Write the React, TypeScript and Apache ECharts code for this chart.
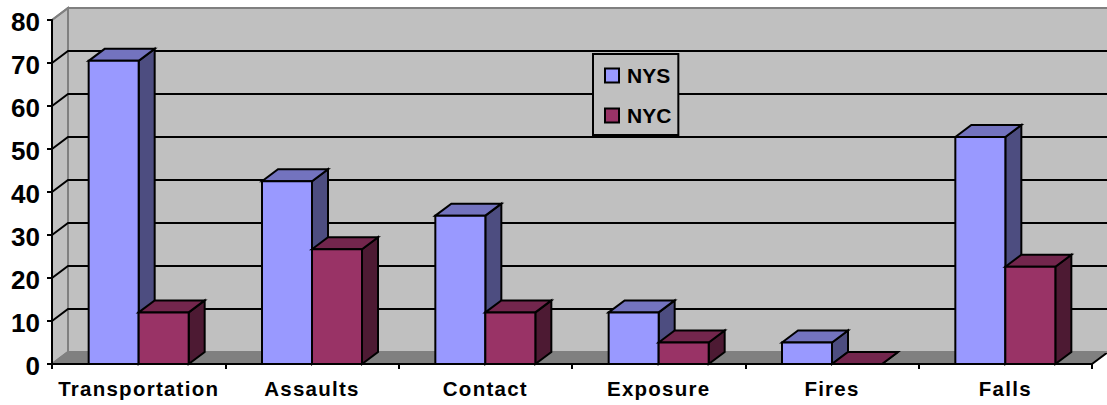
import React, { useEffect, useRef } from "react";
import * as echarts from "echarts";

const categories = ["Transportation", "Assaults", "Contact", "Exposure", "Fires", "Falls"];
const nys = [70.5, 42.5, 34.5, 12, 5, 52.8];
const nyc = [12, 26.7, 12, 5, 0, 22.6];
const yTicks = [0, 10, 20, 30, 40, 50, 60, 70, 80];

const DX = 16;
const DY = -12;
const BAR_W = 50;
const FONT = '"Liberation Sans", Arial, sans-serif';

function poly(points: number[][], fill: string, stroke: string, lineWidth = 2) {
  return {
    type: "polygon",
    shape: { points },
    style: { fill, stroke, lineWidth, lineJoin: "miter" },
  };
}

function barRenderer(offset: number, front: string, top: string, side: string) {
  return (_p: any, api: any) => {
    const [cx, y1] = api.coord([api.value(0), api.value(1)]);
    const [, y0] = api.coord([api.value(0), 0]);
    const x0 = cx + offset * BAR_W;
    const x1 = x0 + BAR_W;
    return {
      type: "group",
      children: [
        poly([[x1, y1], [x1 + DX, y1 + DY], [x1 + DX, y0 + DY], [x1, y0]], side, "#000"),
        poly([[x0, y1], [x0 + DX, y1 + DY], [x1 + DX, y1 + DY], [x1, y1]], top, "#000"),
        poly([[x0, y1], [x1, y1], [x1, y0], [x0, y0]], front, "#000"),
      ],
    };
  };
}

function plotEnds(api: any) {
  const band = api.size([1, 0])[0];
  const first = api.coord([0, 0])[0];
  const last = api.coord([categories.length - 1, 0])[0];
  return { xl: first - band / 2, xr: last + band / 2 };
}

export default function App() {
  const ref = useRef<HTMLDivElement>(null);
  useEffect(() => {
    const chart = echarts.init(ref.current!, undefined, { renderer: "svg" });
    const wall = (_p: any, api: any) => {
      const { xl, xr } = plotEnds(api);
      const yBottom = api.coord([0, 0])[1];
      const yTop = api.coord([0, 80])[1];
      return {
        type: "group",
        children: [
          poly([[xl, yTop], [xl + DX, yTop + DY], [xl + DX, yBottom + DY], [xl, yBottom]], "#c0c0c0", "#808080"),
          poly([[xl + DX, yTop + DY], [xr + DX + 4, yTop + DY], [xr + DX + 4, yBottom + DY], [xl + DX, yBottom + DY]], "#c0c0c0", "#808080"),
          poly([[xl, yBottom], [xl + DX, yBottom + DY], [xr + DX, yBottom + DY], [xr, yBottom]], "#808080", "#808080", 1),
          {
            type: "line",
            shape: { x1: xr, y1: yBottom, x2: xr + DX, y2: yBottom + DY },
            style: { stroke: "#000", lineWidth: 2 },
          },
        ],
      };
    };
    const gridLine = (_p: any, api: any) => {
      const v = api.value(0);
      const { xl, xr } = plotEnds(api);
      const y = api.coord([0, v])[1];
      const c = v === 0 || v === 80 ? "#808080" : "#000";
      return {
        type: "polyline",
        shape: { points: [[xl, y], [xl + DX, y + DY], [xr + DX + 4, y + DY]] },
        style: { fill: "none", stroke: c, lineWidth: 2 },
      };
    };
    chart.setOption({
      animation: false,
      backgroundColor: "#fff",
      grid: { left: 52, right: 15, top: 20, bottom: 41, containLabel: false },
      xAxis: {
        type: "category",
        data: categories,
        z: 5,
        axisLine: { lineStyle: { color: "#000", width: 2 } },
        axisTick: { show: true, length: 5, lineStyle: { color: "#000", width: 2 } },
        axisLabel: { interval: 0, color: "#000", fontFamily: FONT, fontWeight: "bold", fontSize: 20.5, margin: 14 },
      },
      yAxis: {
        type: "value",
        min: 0,
        max: 80,
        interval: 10,
        z: 5,
        splitLine: { show: false },
        axisLine: { show: true, lineStyle: { color: "#000", width: 2 } },
        axisTick: { show: true, length: 5, lineStyle: { color: "#000", width: 2 } },
        axisLabel: { color: "#000", fontFamily: FONT, fontWeight: "bold", fontSize: 26, margin: 12 },
      },
      legend: {
        orient: "vertical",
        left: 593,
        top: 54,
        data: ["NYS", "NYC"],
        backgroundColor: "#c0c0c0",
        borderColor: "#000",
        borderWidth: 2,
        padding: [11, 7, 9, 11],
        itemGap: 19,
        itemWidth: 14,
        itemHeight: 14,
        icon: "rect",
        selectedMode: false,
        itemStyle: { borderColor: "#000", borderWidth: 2 },
        textStyle: { color: "#000", fontFamily: FONT, fontWeight: "bold", fontSize: 21, padding: [0, 0, 0, 3] },
      },
      series: [
        { type: "custom", silent: true, z: 1, clip: false, data: [[0, 0]], encode: { x: 0, y: 1 }, renderItem: wall },
        {
          type: "custom", silent: true, z: 1, clip: false,
          data: yTicks.map((v) => [v]), encode: { y: 0 }, renderItem: gridLine,
        },
        {
          name: "NYS", type: "custom", silent: true, z: 2, clip: false,
          itemStyle: { color: "#9999ff" },
          data: nys.map((v, i) => [i, v]), encode: { x: 0, y: 1 },
          renderItem: barRenderer(-1, "#9999ff", "#7373bf", "#4d4d80"),
        },
        {
          name: "NYC", type: "custom", silent: true, z: 3, clip: false,
          itemStyle: { color: "#993366" },
          data: nyc.map((v, i) => [i, v]), encode: { x: 0, y: 1 },
          renderItem: barRenderer(0, "#993366", "#73264d", "#4d1a33"),
        },
      ],
    });
    ref.current!.querySelectorAll("text").forEach((t) => {
      const s = (t.textContent || "").trim();
      if (categories.includes(s)) {
        (t as SVGTextElement).style.letterSpacing = "1.25px";
      } else if (yTicks.map(String).includes(s)) {
        t.setAttribute("dy", "1.5");
      }
    });
    return () => chart.dispose();
  }, []);
  return <div ref={ref} style={{ position: "fixed", left: 0, top: 0, width: 1107, height: 405 }} />;
}
